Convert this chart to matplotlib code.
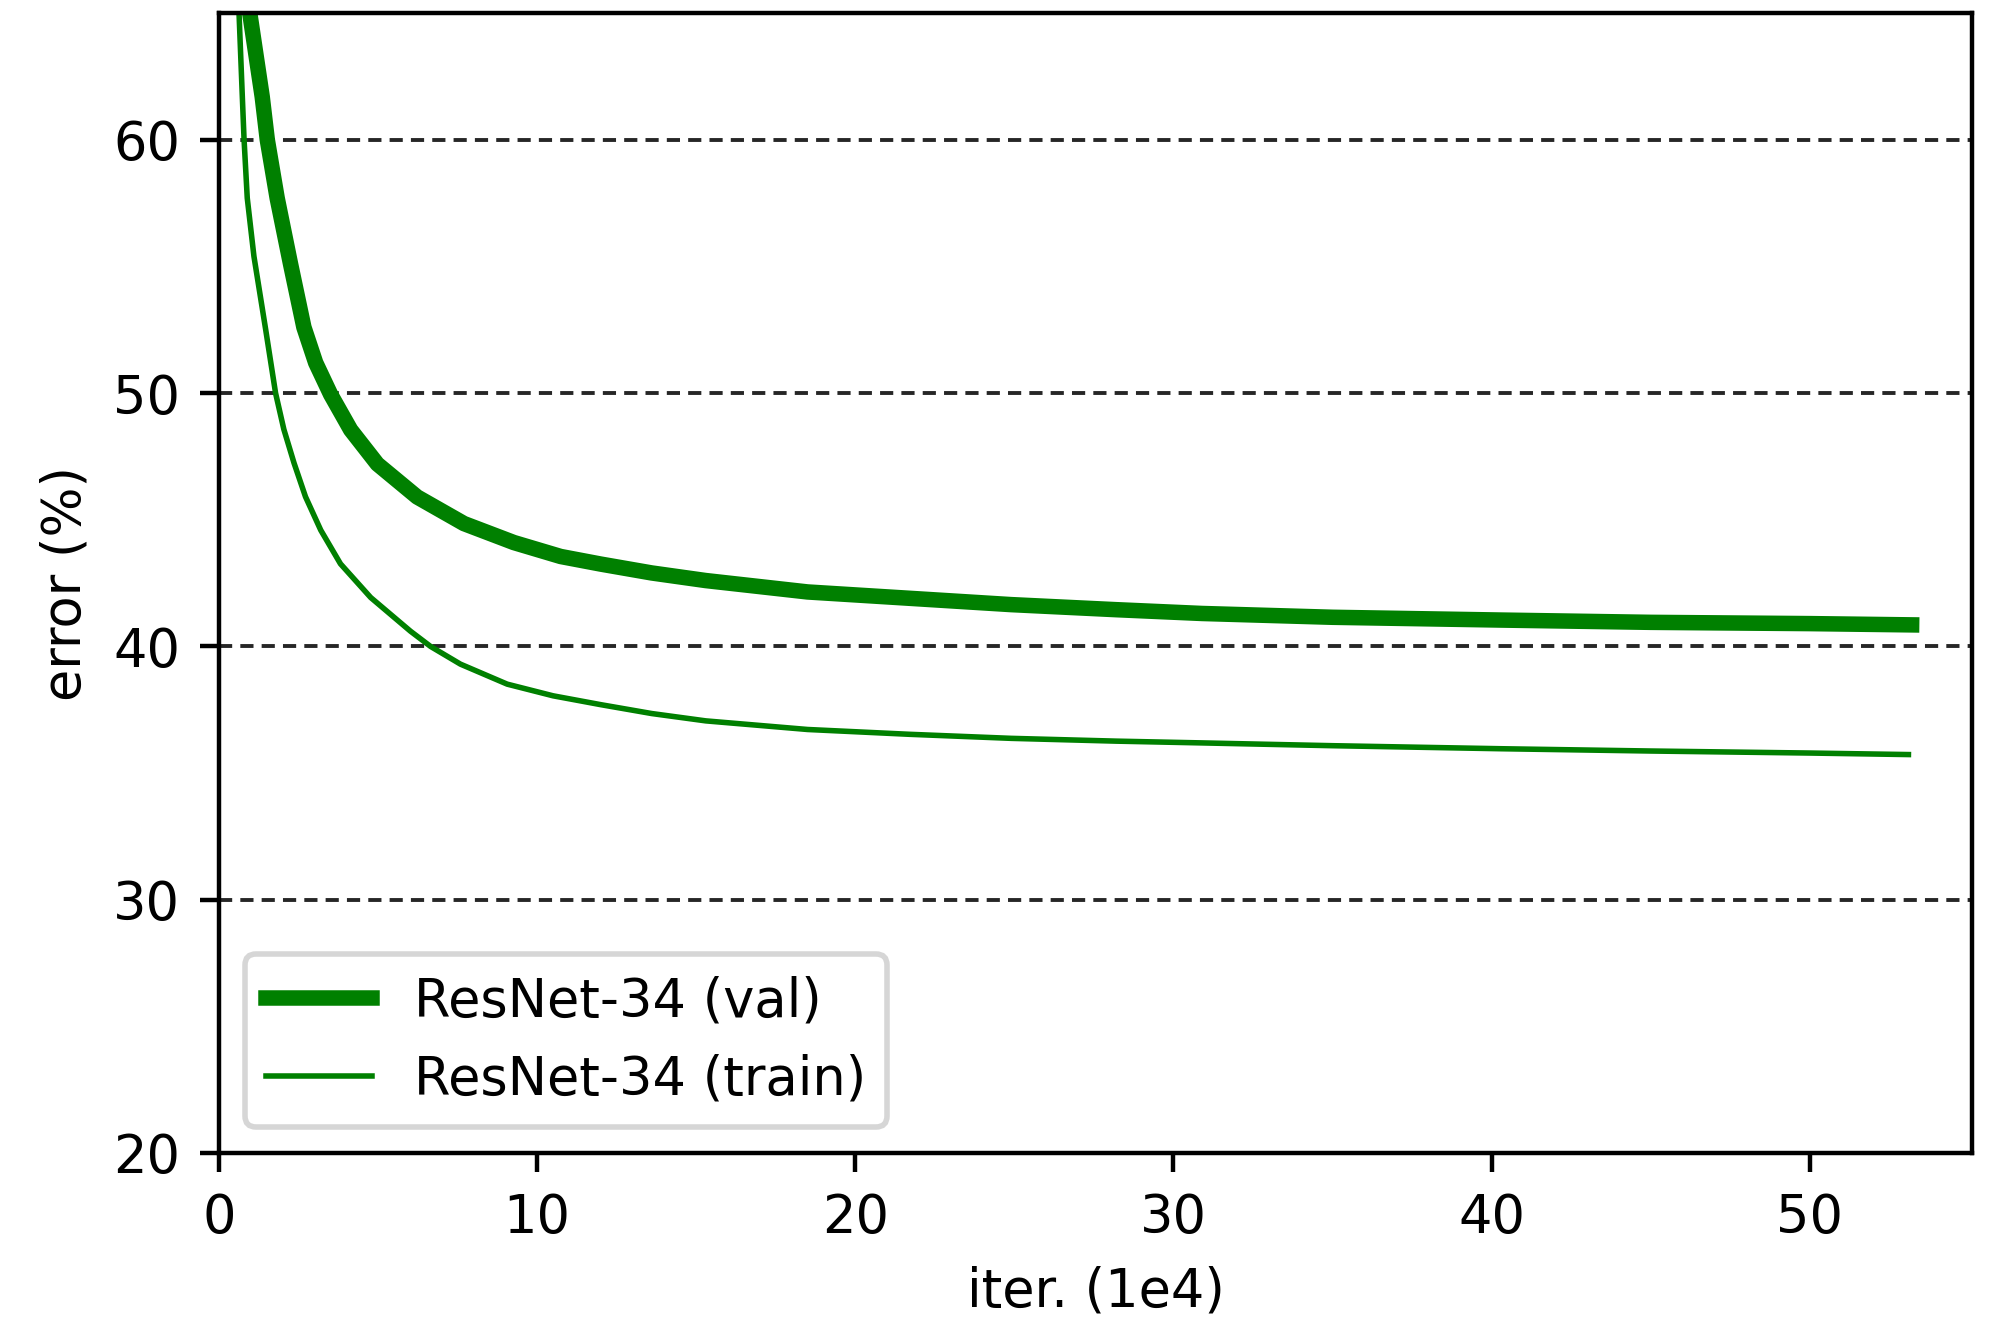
# Libraries
# ---------------------------------------
import matplotlib
matplotlib.use("Agg")
import matplotlib.pyplot as plt

# Data (iterations in 1e4, error in %)
# ---------------------------------------
val_iter = [0.85, 1.36, 1.52, 1.83, 2.25, 2.67, 3.04, 3.51, 4.14, 4.98, 6.23, 7.70,
            9.27, 10.74, 12.0, 13.6, 15.3, 18.5, 21.7, 24.9, 28.2, 30.9, 35.0, 40.3,
            45.0, 50.0, 53.2]
val_err = [66.0, 61.7, 60.0, 57.7, 55.1, 52.6, 51.2, 49.95, 48.55, 47.2, 45.9, 44.85,
           44.1, 43.55, 43.25, 42.9, 42.6, 42.15, 41.9, 41.65, 41.45, 41.3, 41.15, 41.04,
           40.95, 40.9, 40.85]

train_iter = [0.6, 0.735, 0.79, 0.89, 1.10, 1.47, 1.78, 2.04, 2.36, 2.72, 3.20, 3.82,
              4.77, 6.02, 6.65, 7.59, 9.06, 10.5, 12.0, 13.6, 15.3, 18.5, 21.7, 24.9,
              28.2, 30.9, 35.0, 40.3, 45.0, 50.0, 53.1]
train_err = [66.0, 61.7, 60.0, 57.7, 55.4, 52.5, 50.0, 48.57, 47.24, 45.91, 44.59, 43.26,
             41.93, 40.6, 40.0, 39.3, 38.51, 38.05, 37.7, 37.35, 37.06, 36.72, 36.53, 36.37,
             36.26, 36.19, 36.08, 35.96, 35.87, 35.79, 35.73]

labels = ["ResNet-34 (val)", "ResNet-34 (train)"]

# Figure: small notebook-style plot rendered at high dpi
# ---------------------------------------
plt.rcParams["font.size"] = 9.5

dpi = 398.8
fig = plt.figure(figsize=(1994 / dpi, 1318 / dpi))
ax = fig.add_axes([0.1098, 0.1252, 0.989 - 0.1098, 0.990 - 0.1252])

ax.plot(val_iter, val_err, color="green", lw=2.8, label=labels[0])
ax.plot(train_iter, train_err, color="green", lw=1.0, label=labels[1])

ax.set_xlim(0, 55.1)
ax.set_ylim(20, 65)
ax.set_xticks([0, 10, 20, 30, 40, 50])
ax.set_yticks([20, 30, 40, 50, 60])
ax.yaxis.grid(True, color="0.15", linestyle=(0, (3.4, 2.1)), lw=0.7)

ax.set_xlabel("iter. (1e4)")
ax.set_ylabel("error (%)")
plt.legend(loc="lower left")

fig.savefig("out.png", dpi=dpi)
